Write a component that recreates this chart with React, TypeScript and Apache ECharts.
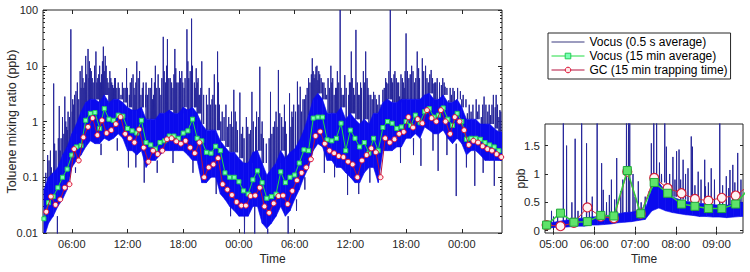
import React, { useEffect, useRef } from 'react';
import * as echarts from 'echarts';

const FONT = "'Liberation Sans', Arial, Helvetica, sans-serif";
const AXIS_COLOR = '#262626';

const NAME_FAST = 'Vocus (0.5 s average)';
const NAME_AVG = 'Vocus (15 min average)';
const NAME_GC = 'GC (15 min trapping time)';

// ---------------- main panel (hours counted from 00:00 of day 1) ----------------
const mainXMin = 2.9;
const mainXMax = 52.33;
const mainTickHours = [6, 12, 18, 24, 30, 36, 42, 48];
const logMajorTicks = [0.01, 0.1, 1, 10, 100];
const logMinorTicks = [
  0.02, 0.03, 0.04, 0.05, 0.06, 0.07, 0.08, 0.09,
  0.2, 0.3, 0.4, 0.5, 0.6, 0.7, 0.8, 0.9,
  2, 3, 4, 5, 6, 7, 8, 9,
  20, 30, 40, 50, 60, 70, 80, 90,
];

// 0.5 s trace: dense band (low / high per 30-min slot) plus isolated spikes
const mainSlotStart = 3.0;
const mainSlotStep = 0.5;
const mainBandLow = [
  0.008, 0.015, 0.02, 0.03, 0.04, 0.06,
  0.15, 0.2, 0.25, 0.35, 0.45, 0.4, 0.4, 0.5, 0.45, 0.5, 0.6, 0.5,
  0.3, 0.3, 0.25, 0.3, 0.15, 0.2, 0.2, 0.25, 0.3, 0.3, 0.3, 0.3,
  0.3, 0.25, 0.2, 0.2, 0.08, 0.08, 0.1, 0.1, 0.05, 0.04, 0.03, 0.025,
  0.02, 0.02, 0.02, 0.03, 0.03, 0.015, 0.012, 0.015, 0.02, 0.03, 0.02, 0.025,
  0.04, 0.06, 0.1, 0.15, 0.3, 0.4, 0.35, 0.2, 0.2, 0.15, 0.15, 0.12,
  0.1, 0.08, 0.08, 0.12, 0.15, 0.15, 0.08, 0.3, 0.3, 0.3, 0.35, 0.35,
  0.5, 0.5, 0.6, 0.5, 0.8, 0.7, 0.6, 0.6, 0.7, 0.5, 0.4, 0.5,
  0.4, 0.25, 0.3, 0.3, 0.25, 0.2, 0.2, 0.2, 0.2,
];
const mainBandHigh = [
  0.06, 0.1, 0.12, 0.15, 0.25, 0.35,
  0.6, 0.9, 1.5, 2.2, 2.5, 2.5, 2.2, 3, 2.2, 2.5, 2.5, 2.2,
  1.8, 1.6, 1.6, 1.8, 1.1, 1.1, 1.1, 1.4, 1.4, 1.6, 1.4, 1.4,
  1.8, 1.6, 1.8, 1.4, 0.9, 0.7, 0.7, 0.7, 0.45, 0.35, 0.28, 0.28,
  0.22, 0.18, 0.18, 0.28, 0.3, 0.18, 0.11, 0.14, 0.18, 0.3, 0.22, 0.28,
  0.32, 0.45, 0.7, 1.3, 2.5, 3.2, 2.5, 1.4, 1.4, 1.4, 1.8, 1.1,
  1.4, 1.1, 0.9, 1.1, 0.9, 1.4, 1.4, 2.2, 2.5, 2.2, 2.2, 2.5,
  2.5, 2.5, 2.5, 2.5, 3, 3.2, 2.5, 2.5, 3, 2.2, 2.2, 2.5,
  1.8, 1.1, 1.1, 1.1, 0.9, 0.9, 0.9, 0.75, 0.65,
];
const mainSpikes: [number, number][] = [
  // tall spikes and deep drops
  [3.1, 0.005], [3.3, 0.006], [3.4, 0.25], [3.7, 0.3], [3.9, 0.12], [4.05, 4.8], [4.3, 0.3],
  [4.45, 0.006], [4.65, 1.9], [4.85, 0.5], [5.0, 1.2], [5.25, 2.8], [5.45, 0.8], [5.6, 1.5],
  [5.9, 45], [6.1, 2.5], [6.3, 3], [6.6, 5], [6.9, 8], [7.1, 10], [7.3, 4], [7.5, 15],
  [7.75, 20], [7.9, 12], [8.1, 8], [8.3, 5], [8.6, 18], [8.8, 6], [9.0, 10], [9.2, 7],
  [9.4, 22], [9.6, 15], [9.8, 6], [10.1, 8], [10.3, 5], [10.5, 4], [10.7, 6], [11.0, 5],
  [11.3, 3], [11.6, 4], [11.9, 9], [12.1, 0.15], [12.3, 5], [12.6, 7], [12.8, 3], [13.0, 12],
  [13.3, 8], [13.6, 4], [13.8, 0.08], [14.0, 5], [14.3, 4], [14.6, 6], [14.8, 3], [15.0, 10],
  [15.3, 7], [15.6, 3], [15.85, 33], [16.1, 5], [16.3, 30], [16.6, 6], [16.9, 4], [17.1, 20],
  [17.3, 5], [17.6, 8], [17.85, 8], [18.1, 4], [18.4, 45], [18.6, 6], [18.9, 70], [19.2, 5],
  [19.4, 9], [19.6, 6], [19.8, 3], [20.0, 12], [20.35, 0.13], [20.5, 3], [20.8, 4], [21.1, 2.5],
  [21.35, 7], [21.7, 18], [21.9, 2], [22.2, 1.5], [22.6, 2], [22.9, 1.2], [23.2, 1.5],
  [23.45, 3.7], [23.7, 1], [24.1, 3.3], [24.4, 0.8], [24.6, 0.008], [24.8, 1.2], [25.1, 0.6],
  [25.4, 3.4], [25.7, 0.006], [25.9, 1.5], [26.25, 9.6], [26.5, 1], [26.8, 0.02], [27.1, 0.007],
  [27.4, 3.4], [27.7, 0.8], [28.0, 1.5], [28.25, 8.4], [28.6, 1.2], [28.9, 2], [29.1, 0.6],
  [29.3, 0.007], [29.45, 3.2], [29.7, 1.5], [29.9, 2], [30.3, 5.2], [30.6, 4.2], [30.9, 2.5],
  [31.2, 3], [31.5, 6], [31.9, 13.6], [32.1, 6], [32.3, 9.6], [32.5, 5.5], [32.7, 7], [33.0, 5],
  [33.3, 4], [33.6, 6], [33.9, 10], [34.1, 6], [34.4, 4], [34.6, 8], [34.9, 100], [35.1, 3],
  [35.4, 6.8], [35.7, 0.048], [35.9, 5], [36.1, 18], [36.35, 4], [36.6, 44], [36.85, 3],
  [37.1, 5], [37.4, 8], [37.65, 18], [37.9, 4], [38.2, 3], [38.5, 3.4], [38.8, 2.5], [39.1, 3],
  [39.5, 3.7], [39.8, 6], [40.05, 4.8], [40.3, 100], [40.55, 5], [40.8, 8], [41.05, 5],
  [41.3, 2.8], [41.6, 6], [41.8, 4], [42.0, 38], [42.3, 6], [42.6, 10], [42.9, 5], [43.2, 18],
  [43.45, 6], [43.6, 0.16], [43.75, 13.6], [44.1, 10], [44.4, 5], [44.7, 8.4], [45.0, 4.8],
  [45.2, 5], [45.45, 0.13], [45.8, 4.5], [46.2, 4.2], [46.6, 2.4], [46.9, 3], [47.2, 3.5],
  [47.4, 0.046], [47.7, 2.5], [48.0, 2.5], [48.3, 1.8], [48.6, 1.4], [49.0, 1.5], [49.4, 0.07],
  [49.7, 1.5], [50.1, 1.2], [50.4, 2.8], [50.8, 1.5], [51.1, 1.3], [51.4, 3.0], [51.5, 0.07],
  [51.7, 3], [52.0, 1.2], [52.2, 1.5],
  // shorter spikes that make the ragged top of the band
  [3.2, 0.12], [3.55, 0.2], [3.8, 0.15], [4.15, 0.4], [4.55, 0.5], [4.75, 0.3], [5.15, 0.6],
  [5.35, 1.0], [5.55, 0.7], [5.75, 1.2], [6.05, 1.5], [6.2, 2], [6.45, 3.5], [6.75, 2.5],
  [7.0, 4], [7.2, 6], [7.4, 5], [7.6, 7], [7.85, 6], [8.0, 9], [8.2, 6], [8.45, 10], [8.7, 5],
  [8.9, 7], [9.1, 5], [9.3, 12], [9.5, 8], [9.7, 10], [9.9, 5], [10.0, 4], [10.2, 6], [10.4, 4.5],
  [10.6, 6], [10.85, 4], [11.1, 4], [11.45, 5], [11.75, 4], [12.0, 4], [12.2, 3], [12.45, 6],
  [12.7, 4], [12.9, 5], [13.15, 6], [13.45, 3], [13.7, 5], [13.95, 3], [14.15, 3], [14.45, 4],
  [14.7, 2.5], [14.9, 5], [15.15, 4], [15.45, 4], [15.7, 6], [15.95, 8], [16.2, 10], [16.45, 6],
  [16.75, 5], [17.0, 7], [17.2, 9], [17.45, 5], [17.7, 6], [17.95, 5], [18.2, 6], [18.5, 12],
  [18.75, 8], [19.0, 10], [19.3, 4], [19.5, 5], [19.7, 3], [19.9, 4], [20.2, 3], [20.65, 2],
  [20.95, 2], [21.2, 3], [21.5, 2], [21.8, 5], [22.05, 1], [22.4, 1.2], [22.75, 0.8], [23.05, 0.9],
  [23.35, 0.8], [23.6, 1.5], [23.85, 0.7], [24.25, 0.6], [24.55, 0.5], [24.95, 0.8], [25.25, 0.7],
  [25.55, 1], [25.8, 0.8], [26.1, 1.2], [26.4, 0.6], [26.65, 0.5], [26.95, 0.4], [27.25, 0.5],
  [27.55, 0.6], [27.85, 1], [28.1, 0.8], [28.4, 1.4], [28.75, 0.8], [29.0, 1], [29.6, 0.8],
  [29.8, 1.2], [30.1, 1.5], [30.45, 2], [30.75, 1.5], [31.05, 2.5], [31.35, 4], [31.65, 5],
  [31.8, 7], [32.0, 8], [32.2, 7], [32.4, 10], [32.6, 8], [32.85, 6], [33.15, 5], [33.45, 3],
  [33.75, 4], [34.0, 5], [34.25, 3], [34.5, 4], [34.75, 5], [35.0, 4], [35.25, 3], [35.55, 4],
  [35.8, 3], [36.0, 5], [36.2, 6], [36.45, 3], [36.75, 5], [36.95, 3], [37.2, 4], [37.5, 5],
  [37.8, 6], [38.0, 3], [38.35, 2.5], [38.65, 3], [38.95, 2], [39.3, 2], [39.65, 4], [39.9, 5],
  [40.15, 8], [40.45, 6], [40.7, 7], [40.95, 6], [41.2, 5], [41.45, 7], [41.7, 5], [41.9, 8],
  [42.15, 8], [42.45, 7], [42.75, 8], [43.05, 6], [43.35, 9], [43.9, 8], [44.25, 6], [44.55, 7],
  [44.85, 6], [45.1, 5], [45.35, 6], [45.6, 5], [45.95, 6], [46.1, 5], [46.4, 4], [46.75, 4],
  [47.05, 4], [47.55, 4], [47.85, 3.5], [48.15, 3], [48.45, 2.5], [48.8, 2], [49.2, 2],
  [49.55, 2.5], [49.85, 2], [50.25, 2], [50.6, 2], [50.95, 2], [51.25, 2], [51.6, 1.8],
  [51.85, 2], [52.1, 1.6],
  // shallow dips below the band
  [6.4, 0.12], [9.15, 0.25], [10.9, 0.3], [12.9, 0.15], [15.2, 0.12], [16.9, 0.18], [19.05, 0.12],
  [21.55, 0.05], [23.1, 0.02], [30.2, 0.025], [31.1, 0.06], [33.2, 0.12], [34.3, 0.1],
  [36.9, 0.05], [38.1, 0.08], [41.4, 0.18], [42.8, 0.25], [44.9, 0.3], [46.4, 0.25],
  [48.5, 0.15], [50.3, 0.12],
];

// 15-min Vocus averages (every 30 min from 03:00)
const mainAvgStart = 3.0;
const mainAvgStep = 0.5;
const mainAvgValues = [
  0.018, 0.035, 0.045, 0.065, 0.1, 0.14,
  0.25, 0.35, 0.37, 1.05, 1.4, 1.45, 0.75, 1.7, 1.1, 1.05, 1.3, 1.25,
  0.75, 0.68, 0.62, 1.05, 0.42, 0.38, 0.32, 0.42, 0.45, 0.55, 0.55, 0.5,
  0.62, 0.68, 1.1, 0.5, 0.45, 0.28, 0.27, 0.36, 0.3, 0.12, 0.1, 0.1,
  0.083, 0.057, 0.05, 0.09, 0.13, 0.08, 0.042, 0.045, 0.05, 0.125, 0.08, 0.1,
  0.11, 0.18, 0.31, 0.3, 1.15, 1.2, 1.2, 0.47, 0.45, 0.5, 0.93, 0.3,
  0.7, 0.5, 0.35, 0.42, 0.27, 0.5, 0.3, 0.78, 1.0, 0.93, 0.75, 0.8,
  1.0, 0.85, 1.3, 0.95, 1.5, 1.7, 1.2, 1.3, 1.75, 1.1, 0.85, 1.4,
  1.0, 0.48, 0.5, 0.5, 0.48, 0.42, 0.38, 0.35, 0.3,
];

// GC samples (every 30 min from 03:15)
const mainGcStart = 3.25;
const mainGcStep = 0.5;
const mainGcValues = [
  0.024, 0.045, 0.032, 0.04, 0.065, 0.075,
  0.32, 0.2, 0.52, 0.8, 1.15, 0.57, 1.05, 0.62, 0.7, 0.9, 1.2, 0.6,
  0.5, 0.42, 0.72, 0.34, 0.19, 0.3, 0.26, 0.3, 0.48, 0.5, 0.44, 0.4,
  0.45, 0.34, 0.27, 0.42, 0.1, 0.15, 0.17, 0.22, 0.075, 0.06, 0.048, 0.036,
  0.031, 0.031, 0.046, 0.047, 0.065, 0.03, 0.023, 0.034, 0.046, 0.047, 0.033, 0.057,
  0.088, 0.12, 0.15, 0.21, 0.55, 0.66, 0.4, 0.3, 0.27, 0.24, 0.23, 0.19,
  0.17, 0.1, 0.2, 0.25, 0.33, 0.28, 0.1, 0.5, 0.42, 0.48, 0.6, 0.65,
  1.2, 0.78, 1.1, 0.93, 1.6, 1.15, 1.0, 1.6, 1.0, 0.6, 1.2, 1.0,
  0.7, 0.38, 0.45, 0.42, 0.36, 0.32, 0.3, 0.26, 0.23,
];

// ---------------- inset panel ----------------
const insetXMin = 4.79;
const insetXMax = 9.65;
const insetYMin = -0.04;
const insetYMax = 1.88;
const insetTickHours = [5, 6, 7, 8, 9];
const insetYTicks = [0, 0.5, 1, 1.5];

const insetSlotStart = 4.75;
const insetSlotStep = 1 / 6;
const insetBandLow = [
  0.05, 0.05, 0.06, 0.06, 0.07, 0.08, 0.08, 0.1, 0.1, 0.11, 0.12, 0.14, 0.15, 0.16, 0.18,
  0.2, 0.35, 0.4, 0.35, 0.32, 0.3, 0.28, 0.27, 0.25, 0.25, 0.24, 0.24, 0.23, 0.24, 0.25,
];
const insetBandHigh = [
  0.15, 0.14, 0.16, 0.18, 0.2, 0.22, 0.22, 0.24, 0.25, 0.26, 0.28, 0.3, 0.32, 0.33, 0.35,
  0.38, 0.75, 0.85, 0.7, 0.6, 0.55, 0.52, 0.5, 0.48, 0.48, 0.46, 0.45, 0.45, 0.47, 0.5,
];
const insetSpikes: [number, number][] = [
  [4.95, 0.35], [5.1, 0.3], [5.24, 2.5], [5.32, 1.5], [5.45, 0.5], [5.53, 1.62], [5.69, 2.5],
  [5.81, 1.54], [5.95, 0.6], [6.07, 2.5], [6.18, 1.19], [6.22, 0.72], [6.37, 0.63], [6.42, 0.9],
  [6.55, 1.28], [6.65, 0.7], [6.79, 2.5], [6.84, 2.5], [6.87, 2.5], [6.95, 1.0], [7.08, 0.87],
  [7.25, 0.6], [7.4, 1.54], [7.46, 2.5], [7.53, 2.5], [7.6, 1.2], [7.73, 1.9], [7.77, 1.48],
  [7.93, 1.3], [8.02, 1.4], [8.08, 1.43], [8.18, 1.25], [8.24, 1.0], [8.38, 1.66], [8.41, 1.48],
  [8.55, 1.04], [8.71, 1.25], [8.73, 0.78], [8.87, 1.1], [9.08, 2.5], [9.24, 0.96], [9.33, 1.07],
  [9.4, 1.16], [9.52, 1.37], [9.6, 0.9],
  [5.0, 0.25], [5.6, 0.35], [5.88, 0.45], [6.3, 0.5], [6.5, 0.55], [6.7, 0.9], [7.0, 0.6],
  [7.15, 0.5], [7.35, 0.7], [7.65, 1.0], [7.85, 1.0], [7.98, 0.9], [8.12, 0.9], [8.3, 1.1],
  [8.47, 0.8], [8.62, 0.9], [8.8, 0.85], [8.95, 0.9], [9.15, 0.8], [9.3, 0.75], [9.45, 0.85],
];
const insetTimes = [4.83, 5.17, 5.5, 5.83, 6.16, 6.48, 6.81, 7.14, 7.47, 7.8, 8.14, 8.47, 8.8, 9.13, 9.47, 9.8];
const insetAvgValues = [0.1, 0.31, 0.15, 0.16, 0.27, 0.26, 1.06, 0.3, 0.85, 0.66, 0.47, 0.43, 0.39, 0.39, 0.47, 0.75];
const insetGcValues = [0.1, 0.08, 0.14, 0.41, 0.25, 0.22, 1.04, 0.3, 0.93, 0.75, 0.66, 0.56, 0.53, 0.58, 0.62, 0.8];

// ---------------- helpers ----------------
// band segments: [t0, low0, high0, t1, low1, high1]
function bandSegments(start: number, step: number, low: number[], high: number[]) {
  const out: number[][] = [];
  for (let i = 0; i < low.length; i++) {
    const j = Math.min(i + 1, low.length - 1);
    out.push([start + i * step, low[i], high[i], start + (i + 1) * step, low[j], high[j]]);
  }
  return out;
}

function spikeTrace(start: number, step: number, low: number[], high: number[], spikes: [number, number][]) {
  const out: any[] = [];
  const d = step / 40;
  spikes.forEach(([t, v]) => {
    const i = Math.min(low.length - 1, Math.max(0, Math.floor((t - start) / step)));
    const anchor = v >= high[i] ? high[i] : low[i];
    out.push([t - d, anchor], [t, v], [t + d, anchor], [t + d, '-']);
  });
  return out;
}

function regular(start: number, step: number, values: number[]) {
  return values.map((v, i) => [start + i * step, v]);
}

function paired(times: number[], values: number[]) {
  return values.map((v, i) => [times[i], v]);
}

const hourLabel = (v: number) => {
  const h = ((Math.round(v) % 24) + 24) % 24;
  return (h < 10 ? '0' : '') + h + ':00';
};

const BAND_COLOR = '#0a0aee';
const SPIKE_COLOR = '#26269a';

const bandRender = (params: any, api: any) => {
  const p0 = api.coord([api.value(0), api.value(1)]);
  const p1 = api.coord([api.value(0), api.value(2)]);
  const p2 = api.coord([api.value(3), api.value(5)]);
  const p3 = api.coord([api.value(3), api.value(4)]);
  return {
    type: 'polygon',
    shape: { points: [p0, p1, p2, p3] },
    style: { fill: BAND_COLOR, stroke: BAND_COLOR, lineWidth: 0.6 },
  };
};

const tickStyle = { color: AXIS_COLOR, width: 1 };

function xAxisDef(gridIndex: number, min: number, max: number, ticks: number[], bottom: boolean, fontSize: number, nameGap: number) {
  return {
    type: 'value',
    gridIndex,
    min,
    max,
    position: bottom ? 'bottom' : 'top',
    axisLine: { show: false },
    axisTick: { show: true, inside: true, length: 4, customValues: ticks, lineStyle: tickStyle },
    axisLabel: bottom
      ? { show: true, customValues: ticks, formatter: hourLabel, fontSize, color: AXIS_COLOR, fontFamily: FONT, margin: 5 }
      : { show: false },
    splitLine: { show: false },
    name: bottom ? 'Time' : '',
    nameLocation: 'middle',
    nameGap,
    nameMoveOverlap: false,
    nameTextStyle: { fontSize: 12, color: AXIS_COLOR, fontFamily: FONT },
  };
}

function logAxisDef(position: string, ticks: number[], len: number, labels: boolean, name: string) {
  return {
    type: 'log',
    logBase: 10,
    gridIndex: 0,
    min: 0.01,
    max: 100,
    position,
    axisLine: { show: false },
    axisTick: { show: true, inside: true, length: len, customValues: ticks, lineStyle: tickStyle },
    axisLabel: labels
      ? { show: true, customValues: ticks, formatter: (v: number) => String(v), fontSize: 11, color: AXIS_COLOR, fontFamily: FONT, margin: 5 }
      : { show: false },
    splitLine: { show: false },
    name,
    nameLocation: 'middle',
    nameGap: 25,
    nameMoveOverlap: false,
    nameTextStyle: { fontSize: 12.5, color: AXIS_COLOR, fontFamily: FONT },
  };
}

function insetYAxisDef(position: string, labels: boolean) {
  return {
    type: 'value',
    gridIndex: 1,
    min: insetYMin,
    max: insetYMax,
    position,
    axisLine: { show: false },
    axisTick: { show: true, inside: true, length: 3, customValues: insetYTicks, lineStyle: tickStyle },
    axisLabel: labels
      ? { show: true, customValues: insetYTicks, formatter: (v: number) => String(v), fontSize: 11.5, color: AXIS_COLOR, fontFamily: FONT, margin: 5 }
      : { show: false },
    splitLine: { show: false },
    name: labels ? 'ppb' : '',
    nameLocation: 'middle',
    nameGap: 18,
    nameMoveOverlap: false,
    nameTextStyle: { fontSize: 12, color: AXIS_COLOR, fontFamily: FONT },
  };
}

export default function App() {
  const ref = useRef<HTMLDivElement>(null);

  useEffect(() => {
    if (!ref.current) return;
    const chart = echarts.init(ref.current, undefined, { renderer: 'svg' });

    const option: any = {
      animation: false,
      backgroundColor: '#ffffff',
      textStyle: { fontFamily: FONT },
      grid: [
        { left: 43, top: 10, width: 459, height: 223, show: true, borderColor: AXIS_COLOR, borderWidth: 1, backgroundColor: 'transparent', outerBoundsMode: 'none', containLabel: false },
        { left: 545, top: 124, width: 198, height: 109, show: true, borderColor: AXIS_COLOR, borderWidth: 1, backgroundColor: 'transparent', outerBoundsMode: 'none', containLabel: false },
      ],
      legend: {
        show: true,
        orient: 'vertical',
        left: 548,
        top: 33,
        padding: [2, 3, 2, 3],
        itemGap: 0,
        itemWidth: 33,
        itemHeight: 7,
        borderColor: AXIS_COLOR,
        borderWidth: 1,
        borderRadius: 0,
        backgroundColor: '#ffffff',
        selectedMode: false,
        itemStyle: { borderWidth: 1 },
        lineStyle: { width: 1 },
        textStyle: { fontSize: 12, color: '#000000', fontFamily: FONT, lineHeight: 14 },
        data: [
          { name: NAME_FAST, icon: 'path://M0 0H40V1H0Z', itemStyle: { color: '#3a3a80', borderWidth: 0 } },
          { name: NAME_AVG },
          { name: NAME_GC },
        ],
      },
      xAxis: [
        xAxisDef(0, mainXMin, mainXMax, mainTickHours, true, 11, 20),
        xAxisDef(0, mainXMin, mainXMax, mainTickHours, false, 11, 20),
        xAxisDef(1, insetXMin, insetXMax, insetTickHours, true, 11.5, 20),
        xAxisDef(1, insetXMin, insetXMax, insetTickHours, false, 11.5, 20),
      ],
      yAxis: [
        logAxisDef('left', logMajorTicks, 4, true, 'Toluene mixing ratio (ppb)'),
        logAxisDef('left', logMinorTicks, 2, false, ''),
        logAxisDef('right', logMajorTicks, 4, false, ''),
        logAxisDef('right', logMinorTicks, 2, false, ''),
        insetYAxisDef('left', true),
        insetYAxisDef('right', false),
      ],
      series: [
        // main panel
        {
          name: NAME_FAST, type: 'line', xAxisIndex: 0, yAxisIndex: 0,
          data: spikeTrace(mainSlotStart, mainSlotStep, mainBandLow, mainBandHigh, mainSpikes),
          symbol: 'none', showSymbol: false, connectNulls: false,
          lineStyle: { color: SPIKE_COLOR, width: 1 }, itemStyle: { color: SPIKE_COLOR }, z: 2,
        },
        {
          name: NAME_FAST, type: 'custom', xAxisIndex: 0, yAxisIndex: 0, clip: true,
          data: bandSegments(mainSlotStart, mainSlotStep, mainBandLow, mainBandHigh),
          encode: { x: [0, 3], y: [1, 2, 4, 5] },
          renderItem: bandRender, itemStyle: { color: BAND_COLOR }, z: 3,
        },
        {
          name: NAME_AVG, type: 'line', xAxisIndex: 0, yAxisIndex: 0,
          data: regular(mainAvgStart, mainAvgStep, mainAvgValues),
          symbol: 'rect', symbolSize: 4, showSymbol: true,
          lineStyle: { color: '#22dd44', width: 1 },
          itemStyle: { color: '#7affb5', borderColor: '#22cc55', borderWidth: 1 }, z: 4,
        },
        {
          name: NAME_GC, type: 'line', xAxisIndex: 0, yAxisIndex: 0,
          data: regular(mainGcStart, mainGcStep, mainGcValues),
          symbol: 'circle', symbolSize: 5, showSymbol: true,
          lineStyle: { color: '#b5123f', width: 1 },
          itemStyle: { color: '#ffe8e8', borderColor: '#dd1133', borderWidth: 1 }, z: 5,
        },
        // inset panel
        {
          name: NAME_FAST, type: 'line', xAxisIndex: 2, yAxisIndex: 4,
          data: spikeTrace(insetSlotStart, insetSlotStep, insetBandLow, insetBandHigh, insetSpikes),
          symbol: 'none', showSymbol: false, connectNulls: false,
          lineStyle: { color: SPIKE_COLOR, width: 1 }, itemStyle: { color: SPIKE_COLOR }, z: 2,
        },
        {
          name: NAME_FAST, type: 'custom', xAxisIndex: 2, yAxisIndex: 4, clip: true,
          data: bandSegments(insetSlotStart, insetSlotStep, insetBandLow, insetBandHigh),
          encode: { x: [0, 3], y: [1, 2, 4, 5] },
          renderItem: bandRender, itemStyle: { color: BAND_COLOR }, z: 3,
        },
        {
          name: NAME_GC, type: 'line', xAxisIndex: 2, yAxisIndex: 4,
          data: paired(insetTimes, insetGcValues),
          symbol: 'circle', symbolSize: 9, showSymbol: true,
          lineStyle: { color: '#cc2a3a', width: 1 },
          itemStyle: { color: '#fff4f4', borderColor: '#d0203a', borderWidth: 1.2 }, z: 4,
        },
        {
          name: NAME_AVG, type: 'line', xAxisIndex: 2, yAxisIndex: 4,
          data: paired(insetTimes, insetAvgValues),
          symbol: 'rect', symbolSize: 8, showSymbol: true,
          lineStyle: { color: '#2ecc40', width: 1.5 },
          itemStyle: { color: '#5fe36a', borderColor: '#1fa83a', borderWidth: 1 }, z: 5,
        },
      ],
    };

    chart.setOption(option);
    return () => chart.dispose();
  }, []);

  return (
    <div
      ref={ref}
      style={{ position: 'absolute', left: 0, top: 0, width: 750, height: 272, background: '#ffffff' }}
    />
  );
}
